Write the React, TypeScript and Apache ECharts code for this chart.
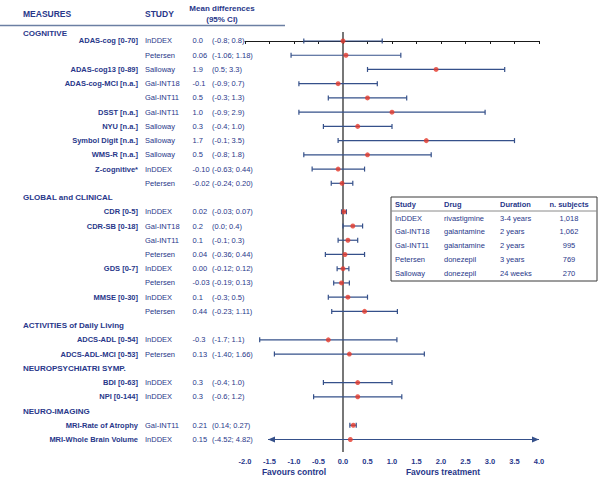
import React, { useEffect, useRef } from "react";
import * as echarts from "echarts";

const SECTIONS = [
  "COGNITIVE",
  "GLOBAL and CLINICAL",
  "ACTIVITIES of Daily Living",
  "NEUROPSYCHIATRI SYMP.",
  "NEURO-IMAGING",
];

const SECTION_OF = [0, 0, 0, 0, 0, 0, 0, 0, 0, 0, 0, 1, 1, 1, 1, 1, 1, 1, 1, 2, 2, 3, 3, 4, 4];

const MEASURES = [
  "ADAS-cog [0-70]", "", "ADAS-cog13 [0-89]", "ADAS-cog-MCI [n.a.]", "", "DSST [n.a.]",
  "NYU [n.a.]", "Symbol Digit [n.a.]", "WMS-R [n.a.]", "Z-cognitive*", "",
  "CDR [0-5]", "CDR-SB [0-18]", "", "", "GDS [0-7]", "", "MMSE [0-30]", "",
  "ADCS-ADL [0-54]", "ADCS-ADL-MCI [0-53]",
  "BDI [0-63]", "NPI [0-144]",
  "MRI-Rate of Atrophy", "MRI-Whole Brain Volume",
];

const STUDIES = [
  "InDDEX", "Petersen", "Salloway", "Gal-INT18", "Gal-INT11", "Gal-INT11",
  "Salloway", "Salloway", "Salloway", "InDDEX", "Petersen",
  "InDDEX", "Gal-INT18", "Gal-INT11", "Petersen", "InDDEX", "Petersen", "InDDEX", "Petersen",
  "InDDEX", "Petersen",
  "InDDEX", "InDDEX",
  "Gal-INT11", "InDDEX",
];

const MEANS = [0.0, 0.06, 1.9, -0.1, 0.5, 1.0, 0.3, 1.7, 0.5, -0.10, -0.02,
  0.02, 0.2, 0.1, 0.04, 0.00, -0.03, 0.1, 0.44,
  -0.3, 0.13,
  0.3, 0.3,
  0.21, 0.15];

const LOWER = [-0.8, -1.06, 0.5, -0.9, -0.3, -0.9, -0.4, -0.1, -0.8, -0.63, -0.24,
  -0.03, 0.0, -0.1, -0.36, -0.12, -0.19, -0.3, -0.23,
  -1.7, -1.40,
  -0.4, -0.6,
  0.14, -4.52];

const UPPER = [0.8, 1.18, 3.3, 0.7, 1.3, 2.9, 1.0, 3.5, 1.8, 0.44, 0.20,
  0.07, 0.4, 0.3, 0.44, 0.12, 0.13, 0.5, 1.11,
  1.1, 1.66,
  1.0, 1.2,
  0.27, 4.82];

const DECIMALS = [1, 2, 1, 1, 1, 1, 1, 1, 1, 2, 2,
  2, 1, 1, 2, 2, 2, 1, 2,
  1, 2,
  1, 1,
  2, 2];

const X_TICKS_MIN = -2;
const X_TICKS_MAX = 4;
const X_TICK_STEP = 0.5;

const TABLE_HEAD = ["Study", "Drug", "Duration", "n. subjects"];
const TABLE_STUDY = ["InDDEX", "Gal-INT18", "Gal-INT11", "Petersen", "Salloway"];
const TABLE_DRUG = ["rivastigmine", "galantamine", "galantamine", "donezepil", "donezepil"];
const TABLE_DURATION = ["3-4 years", "2 years", "2 years", "3 years", "24 weeks"];
const TABLE_N = ["1,018", "1,062", "995", "769", "270"];

// where the arrow tips of out-of-range CIs are drawn
const LEFT_ARROW_TIP = -1.53;
const RIGHT_ARROW_TIP = 4.0;

const FONT = "Liberation Sans, Arial, Helvetica, sans-serif";
const NAVY = "#28378a";
const BAR = "#35508a";
const RED = "#e5392c";

// row slots: each section header (except the first) takes one slot
const ROW_SLOT: number[] = [];
const HEADER_SLOT: number[] = [];
(() => {
  let slot = -1;
  let prev = -1;
  SECTION_OF.forEach((s, i) => {
    if (s !== prev) {
      if (prev !== -1) slot++;
      HEADER_SLOT[s] = prev === -1 ? -0.56 : slot;
      prev = s;
    }
    slot++;
    ROW_SLOT[i] = slot;
  });
})();

export default function App() {
  const ref = useRef<HTMLDivElement>(null);

  useEffect(() => {
    if (!ref.current) return;
    const chart = echarts.init(ref.current, undefined, { renderer: "svg" });

    const barData = MEANS.map((m, i) => [m, LOWER[i], UPPER[i], ROW_SLOT[i]]);
    const pointData = MEANS.map((m, i) => [m, ROW_SLOT[i]]);
    const labelData = MEANS.map((m, i) => [0, ROW_SLOT[i]]);
    const headerData = SECTIONS.map((s, i) => [0, HEADER_SLOT[i]]);

    const MEASURE_X = 138;
    const STUDY_X = 145;
    const MEAN_X = 192.5;
    const CI_X = 212;
    const SECTION_X = 23;

    const tableX = 391;
    const tableY = 197;
    const tableW = 206;
    const tableH = 84;
    const colX = [395, 444, 500];
    const nX = 569;
    const rowY0 = 218;
    const rowStep = 13.9;

    const tableChildren: any[] = [
      {
        type: "rect",
        shape: { x: tableX, y: tableY, width: tableW, height: tableH },
        style: { fill: "#ffffff", stroke: "#3a3a3a", lineWidth: 1 },
      },
      {
        type: "line",
        shape: { x1: tableX, y1: 211, x2: tableX + tableW, y2: 211 },
        style: { stroke: "#8a8a8a", lineWidth: 1 },
      },
    ];
    TABLE_HEAD.forEach((h, j) => {
      tableChildren.push({
        type: "text",
        x: j < 3 ? colX[j] : nX,
        y: 204,
        style: {
          text: h,
          fill: NAVY,
          font: `bold 7.5px ${FONT}`,
          align: j < 3 ? "left" : "center",
          verticalAlign: "middle",
        },
      });
    });
    TABLE_STUDY.forEach((s, r) => {
      const y = rowY0 + r * rowStep;
      [s, TABLE_DRUG[r], TABLE_DURATION[r]].forEach((t, j) => {
        tableChildren.push({
          type: "text",
          x: colX[j],
          y,
          style: { text: t, fill: NAVY, font: `7.5px ${FONT}`, align: "left", verticalAlign: "middle" },
        });
      });
      tableChildren.push({
        type: "text",
        x: nX,
        y,
        style: { text: TABLE_N[r], fill: NAVY, font: `7.5px ${FONT}`, align: "center", verticalAlign: "middle" },
      });
    });

    const option: any = {
      animation: false,
      backgroundColor: "#ffffff",
      grid: { left: 245, right: 64, top: 32, bottom: 28 },
      xAxis: {
        type: "value",
        min: X_TICKS_MIN,
        max: X_TICKS_MAX,
        interval: X_TICK_STEP,
        axisLine: { show: true, lineStyle: { color: "#1a1a1a", width: 1 } },
        axisTick: { show: true, length: 3, lineStyle: { color: "#1a1a1a" } },
        axisLabel: {
          color: NAVY,
          fontFamily: FONT,
          fontWeight: "bold",
          fontSize: 7.5,
          margin: 5,
          formatter: (v: number) => v.toFixed(1),
        },
        splitLine: { show: false },
      },
      yAxis: {
        type: "value",
        inverse: true,
        min: -0.632,
        max: 28.88,
        show: false,
      },
      series: [
        {
          type: "custom",
          clip: false,
          z: 2,
          data: barData,
          encode: { x: [0, 1, 2], y: 3 },
          renderItem: (params: any, api: any) => {
            const lo = api.value(1);
            const hi = api.value(2);
            const slot = api.value(3);
            const y = api.coord([0, slot])[1];
            const loOut = lo < X_TICKS_MIN;
            const hiOut = hi > X_TICKS_MAX;
            const xl = api.coord([loOut ? LEFT_ARROW_TIP : lo, slot])[0];
            const xr = api.coord([hiOut ? RIGHT_ARROW_TIP : hi, slot])[0];
            const children: any[] = [
              { type: "line", shape: { x1: xl, y1: y, x2: xr, y2: y }, style: { stroke: BAR, lineWidth: 1.2 } },
            ];
            if (!loOut) {
              children.push({ type: "line", shape: { x1: xl, y1: y - 2.5, x2: xl, y2: y + 2.5 }, style: { stroke: BAR, lineWidth: 1.2 } });
            } else {
              children.push({ type: "polygon", shape: { points: [[xl, y], [xl + 7, y - 3], [xl + 7, y + 3]] }, style: { fill: BAR } });
            }
            if (!hiOut) {
              children.push({ type: "line", shape: { x1: xr, y1: y - 2.5, x2: xr, y2: y + 2.5 }, style: { stroke: BAR, lineWidth: 1.2 } });
            } else {
              children.push({ type: "polygon", shape: { points: [[xr, y], [xr - 7, y - 3], [xr - 7, y + 3]] }, style: { fill: BAR } });
            }
            return { type: "group", children };
          },
        },
        {
          type: "scatter",
          z: 4,
          data: pointData,
          symbol: "circle",
          symbolSize: 5,
          itemStyle: { color: RED },
          markLine: {
            silent: true,
            symbol: "none",
            label: { show: false },
            lineStyle: { color: "#4a4a4a", width: 1.5, type: "solid" },
            data: [{ xAxis: 0 }],
            z: 1,
          },
        },
        {
          type: "custom",
          clip: false,
          data: labelData,
          encode: { x: 0, y: 1 },
          renderItem: (params: any, api: any) => {
            const i = params.dataIndex;
            const y = api.coord([0, api.value(1)])[1];
            const d = DECIMALS[i];
            return {
              type: "group",
              children: [
                {
                  type: "text", x: MEASURE_X, y,
                  style: { text: MEASURES[i], fill: NAVY, font: `bold 7.5px ${FONT}`, align: "right", verticalAlign: "middle" },
                },
                {
                  type: "text", x: STUDY_X, y,
                  style: { text: STUDIES[i], fill: NAVY, font: `7.5px ${FONT}`, align: "left", verticalAlign: "middle" },
                },
                {
                  type: "text", x: MEAN_X, y,
                  style: { text: MEANS[i].toFixed(d), fill: NAVY, font: `7.5px ${FONT}`, align: "left", verticalAlign: "middle" },
                },
                {
                  type: "text", x: CI_X, y,
                  style: { text: `(${LOWER[i].toFixed(d)}; ${UPPER[i].toFixed(d)})`, fill: NAVY, font: `7.5px ${FONT}`, align: "left", verticalAlign: "middle" },
                },
              ],
            };
          },
        },
        {
          type: "custom",
          clip: false,
          data: headerData,
          encode: { x: 0, y: 1 },
          renderItem: (params: any, api: any) => {
            const y = api.coord([0, api.value(1)])[1];
            return {
              type: "text", x: SECTION_X, y,
              style: { text: SECTIONS[params.dataIndex], fill: NAVY, font: `bold 8px ${FONT}`, align: "left", verticalAlign: "middle" },
            };
          },
        },
      ],
      graphic: [
        { type: "text", x: 23, y: 14, style: { text: "MEASURES", fill: NAVY, font: `bold 8.5px ${FONT}`, align: "left", verticalAlign: "middle" } },
        { type: "text", x: 145, y: 14, style: { text: "STUDY", fill: NAVY, font: `bold 8.5px ${FONT}`, align: "left", verticalAlign: "middle" } },
        { type: "text", x: 222, y: 8, style: { text: "Mean differences", fill: NAVY, font: `bold 8px ${FONT}`, align: "center", verticalAlign: "middle" } },
        { type: "text", x: 222, y: 19, style: { text: "(95% CI)", fill: NAVY, font: `bold 8px ${FONT}`, align: "center", verticalAlign: "middle" } },
        { type: "line", shape: { x1: 0, y1: 25.5, x2: 285, y2: 25.5 }, style: { stroke: "#6b7fa3", lineWidth: 1.5 } },
        { type: "text", x: 294, y: 472, style: { text: "Favours control", fill: NAVY, font: `bold 8.5px ${FONT}`, align: "center", verticalAlign: "middle" } },
        { type: "text", x: 443, y: 472, style: { text: "Favours treatment", fill: NAVY, font: `bold 8.5px ${FONT}`, align: "center", verticalAlign: "middle" } },
        { type: "group", children: tableChildren, z: 10 },
      ],
    };

    chart.setOption(option);
    return () => chart.dispose();
  }, []);

  return (
    <div
      ref={ref}
      style={{ position: "fixed", left: 0, top: 0, width: 603, height: 480, background: "#ffffff" }}
    />
  );
}
